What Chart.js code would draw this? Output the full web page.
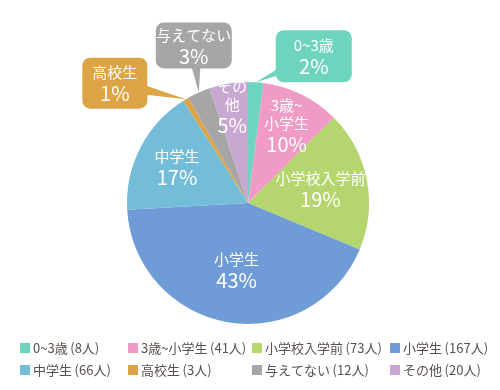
<!DOCTYPE html>
<html>
<head>
<meta charset="utf-8">
<script src="https://cdn.jsdelivr.net/npm/chart.js@4"></script>
<style>
  body { margin: 0; background: #fff; }
  #wrap { width: 500px; height: 390px; }
</style>
</head>
<body>
<div id="wrap"><canvas id="pie" width="500" height="390"></canvas></div>
<script>
// data
const categories = ['0~3歳', '3歳~小学生', '小学校入学前', '小学生', '中学生', '高校生', '与えてない', 'その他'];
const counts = [8, 41, 73, 167, 66, 3, 12, 20];
const percents = [2, 10, 19, 43, 17, 1, 3, 5];
// how the names are broken in the pie labels
const labelLines = [['0~3歳'], ['3歳~', '小学生'], ['小学校入学前'], ['小学生'], ['中学生'], ['高校生'], ['与えてない'], ['その', '他']];

const colors = ['#6fd4bd', '#f09bc6', '#b5d56e', '#6f9bd7', '#73bdd9', '#dca444', '#a6a6a6', '#c8a7d0'];
const FONT = "'Noto Sans CJK JP', 'Noto Sans', sans-serif";

// label placement: inside slice (radius factor) or a callout box (offset from arc tip)
const inside = { 1: 0.72, 2: 0.61, 3: 0.56, 4: 0.66, 7: 0.81 };
const callouts = {
  0: { dx: 58, dy: -26, w: 76, h: 52 },
  5: { dx: -71, dy: -16, w: 65, h: 51 },
  6: { dx: -5, dy: -47, w: 76, h: 46 }
};
const legendCols = [20, 128, 252, 390];
const legendRows = [348, 370];

function drawBlock(ctx, cx, cy, lines, pct) {
  const nameH = 18, pctGap = 21;
  const total = (lines.length - 1) * nameH + pctGap;
  let y = cy - total / 2;
  ctx.fillStyle = '#fff';
  ctx.textAlign = 'center';
  ctx.textBaseline = 'middle';
  ctx.font = '15px ' + FONT;
  lines.forEach((t, i) => {
    ctx.fillText(t, cx, y);
    if (i < lines.length - 1) y += nameH;
  });
  y += pctGap;
  ctx.font = '20px ' + FONT;
  ctx.fillText(pct + '%', cx, y);
}

function roundRect(ctx, x, y, w, h, r) {
  ctx.beginPath();
  ctx.moveTo(x + r, y);
  ctx.arcTo(x + w, y, x + w, y + h, r);
  ctx.arcTo(x + w, y + h, x, y + h, r);
  ctx.arcTo(x, y + h, x, y, r);
  ctx.arcTo(x, y, x + w, y, r);
  ctx.closePath();
}

const labelPlugin = {
  id: 'sliceLabels',
  afterDatasetsDraw(chart) {
    const ctx = chart.ctx;
    const meta = chart.getDatasetMeta(0);
    ctx.save();
    meta.data.forEach((arc, i) => {
      const p = arc.getProps(['x', 'y', 'startAngle', 'endAngle', 'outerRadius'], true);
      const mid = (p.startAngle + p.endAngle) / 2;
      if (inside[i] !== undefined) {
        const r = p.outerRadius * inside[i];
        drawBlock(ctx, p.x + Math.cos(mid) * r, p.y + Math.sin(mid) * r, labelLines[i], percents[i]);
      } else if (callouts[i]) {
        const c = callouts[i];
        const tx = p.x + Math.cos(mid) * p.outerRadius;
        const ty = p.y + Math.sin(mid) * p.outerRadius;
        const bx = tx + c.dx, by = ty + c.dy;
        // pointer wedge from box centre to arc
        const ang = Math.atan2(ty - by, tx - bx);
        const nx = -Math.sin(ang) * 8, ny = Math.cos(ang) * 8;
        ctx.fillStyle = colors[i];
        ctx.beginPath();
        ctx.moveTo(bx + nx, by + ny);
        ctx.lineTo(bx - nx, by - ny);
        ctx.lineTo(tx, ty);
        ctx.closePath();
        ctx.fill();
        roundRect(ctx, bx - c.w / 2, by - c.h / 2, c.w, c.h, 8);
        ctx.fill();
        drawBlock(ctx, bx, by, labelLines[i], percents[i]);
      }
    });
    ctx.restore();
  },
  afterDraw(chart) {
    // two-row legend
    const ctx = chart.ctx;
    ctx.save();
    ctx.font = '13px ' + FONT;
    ctx.textAlign = 'left';
    ctx.textBaseline = 'middle';
    categories.forEach((name, i) => {
      const x = legendCols[i % 4];
      const y = legendRows[Math.floor(i / 4)];
      ctx.fillStyle = colors[i];
      ctx.fillRect(x, y - 5, 10, 10);
      ctx.fillStyle = '#5a504e';
      ctx.fillText(name + '\u2009(' + counts[i] + '人)', x + 13, y);
    });
    ctx.restore();
  }
};

new Chart(document.getElementById('pie'), {
  type: 'pie',
  data: {
    labels: categories,
    datasets: [{
      data: counts,
      backgroundColor: colors,
      borderWidth: 0
    }]
  },
  options: {
    responsive: false,
    animation: false,
    layout: { padding: { left: 127, right: 131, top: 82, bottom: 66 } },
    plugins: {
      legend: { display: false },
      tooltip: { enabled: false }
    }
  },
  plugins: [labelPlugin]
});
</script>
</body>
</html>
